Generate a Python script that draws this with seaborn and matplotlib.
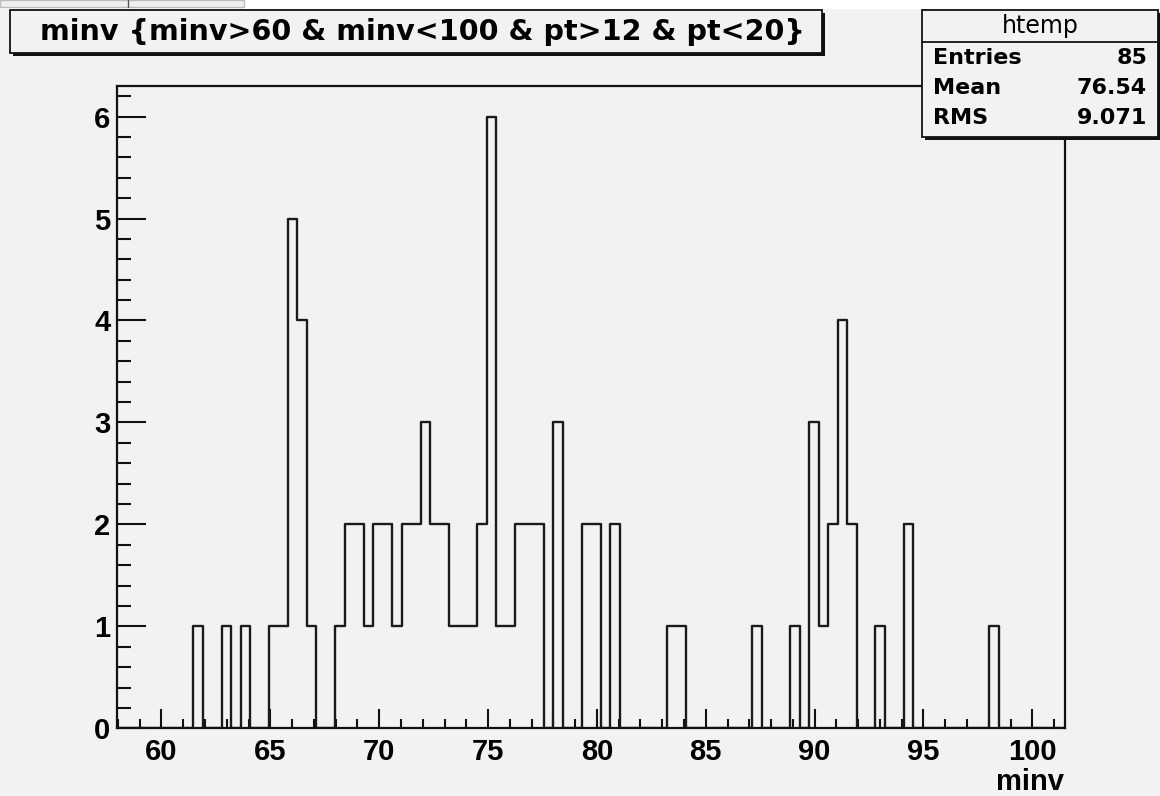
import numpy as np
import pandas as pd
import seaborn as sns
import matplotlib
matplotlib.use("Agg")
import matplotlib.pyplot as plt
from matplotlib.patches import Rectangle
from matplotlib.lines import Line2D
from matplotlib.ticker import MultipleLocator

# ---------------- data ----------------
title_text = "minv {minv>60 & minv<100 & pt>12 & pt<20}"
x_label = "minv"
hist_name = "htemp"
x_min, x_max, n_bins = 57.97, 101.50, 100
filled_bins = [8, 11, 13, 16, 17, 18, 19, 20,
               23, 24, 25, 26, 27, 28, 29, 30, 31, 32, 33, 34, 35, 36, 37, 38,
               39, 40, 41, 42, 43, 44, 46, 49, 50, 52, 58, 59, 67, 71,
               73, 74, 75, 76, 77, 80, 83, 92]
bin_counts = [1, 1, 1, 1, 1, 5, 4, 1,
              1, 2, 2, 1, 2, 2, 1, 2, 2, 3, 2, 2, 1, 1, 1, 2,
              6, 1, 1, 2, 2, 2, 3, 2, 2, 2, 1, 1, 1, 1,
              3, 1, 2, 4, 2, 1, 2, 1]
stat_names = ["Entries", "Mean", "RMS"]
stat_values = ["85", "76.54", "9.071"]
x_ticks = [60, 65, 70, 75, 80, 85, 90, 95, 100]
y_ticks = [0, 1, 2, 3, 4, 5, 6]

edges = np.linspace(x_min, x_max, n_bins + 1)
centers = 0.5 * (edges[:-1] + edges[1:])
counts = np.zeros(n_bins)
counts[filled_bins] = bin_counts
df = pd.DataFrame({"minv": centers, "count": counts})

# ---------------- style ----------------
sns.set_theme(style="ticks")
BG = "#f2f2f2"
plt.rcParams["font.family"] = ["Liberation Sans", "DejaVu Sans"]

W, H = 1160, 796
fig = plt.figure(figsize=(W / 100, H / 100), dpi=100, facecolor=BG)


def fx(px):
    return px / W


def fy(py):
    return 1 - py / H


ax_l, ax_t, ax_r, ax_b = 117.3, 86.0, 1065.0, 728.3
ax = fig.add_axes([fx(ax_l), fy(ax_b), fx(ax_r - ax_l), (ax_b - ax_t) / H])
ax.set_facecolor(BG)

sns.histplot(data=df, x="minv", weights="count", bins=n_bins, binrange=(x_min, x_max),
             element="step", fill=False, color="#1a1a1a", linewidth=1.7, ax=ax)

ax.set_xlim(x_min, x_max)
ax.set_ylim(0, 6.3)
ax.set_xticks(x_ticks)
ax.set_yticks(y_ticks)
ax.xaxis.set_minor_locator(MultipleLocator(1))
ax.yaxis.set_minor_locator(MultipleLocator(0.2))
ax.set_xlabel("")
ax.set_ylabel("")
for s in ax.spines.values():
    s.set_linewidth(1.6)
    s.set_color("#111111")
ax.tick_params(axis="x", which="major", direction="in", length=13.5, width=1.5,
               pad=7, labelsize=21, colors="#111111")
ax.tick_params(axis="x", which="minor", direction="in", length=6.5, width=1.5,
               colors="#111111")
ax.tick_params(axis="y", which="major", direction="in", length=21, width=1.5,
               pad=5, labelsize=21, colors="#111111")
ax.tick_params(axis="y", which="minor", direction="in", length=10, width=1.5,
               colors="#111111")
for lab in ax.get_xticklabels() + ax.get_yticklabels():
    lab.set_fontweight("bold")
    lab.set_color("black")

# x axis title at right end
fig.text(fx(1064), fy(790), x_label, ha="right", va="baseline",
         fontsize=21, fontweight="bold", color="black")

# top white strip (screenshot artefact)
fig.add_artist(Rectangle((0, fy(9)), 1, 9 / H, transform=fig.transFigure,
                         facecolor="white", edgecolor="none", zorder=5))
fig.add_artist(Rectangle((0, fy(7)), fx(244), 7 / H, transform=fig.transFigure,
                         facecolor="#eeeeee", edgecolor="#bbbbbb", lw=1, zorder=6))
fig.add_artist(Line2D([fx(128), fx(128)], [fy(7), 1], transform=fig.transFigure,
                      color="#555555", lw=1, zorder=7))

# title box with shadow
fig.add_artist(Rectangle((fx(13), fy(56)), fx(812), 43 / H, transform=fig.transFigure,
                         facecolor="#111111", edgecolor="none", zorder=8))
fig.add_artist(Rectangle((fx(10), fy(53)), fx(812), 43 / H, transform=fig.transFigure,
                         facecolor=BG, edgecolor="#111111", lw=1.3, zorder=9))
fig.text(fx(422), fy(32), title_text, ha="center", va="center", fontsize=20.6,
         fontweight="bold", family=["DejaVu Sans"], color="black", zorder=10)

# stats box with shadow
sb_l, sb_t, sb_r, sb_b = 921.7, 10.0, 1158.3, 136.7
fig.add_artist(Rectangle((fx(sb_l + 3), fy(sb_b + 3)), fx(sb_r - sb_l), (sb_b - sb_t) / H,
                         transform=fig.transFigure, facecolor="#111111",
                         edgecolor="none", zorder=8))
fig.add_artist(Rectangle((fx(sb_l), fy(sb_b)), fx(sb_r - sb_l), (sb_b - sb_t) / H,
                         transform=fig.transFigure, facecolor=BG,
                         edgecolor="#111111", lw=1.3, zorder=9))
fig.add_artist(Line2D([fx(sb_l), fx(sb_r)], [fy(42.3), fy(42.3)], transform=fig.transFigure,
                      color="#111111", lw=1.3, zorder=10))
fig.text(fx((sb_l + sb_r) / 2), fy(26), hist_name, ha="center", va="center",
         fontsize=17, family=["DejaVu Sans"], color="black", zorder=11)
row_y = [58, 88, 118]
for name, val, yy in zip(stat_names, stat_values, row_y):
    fig.text(fx(933), fy(yy), name, ha="left", va="center", fontsize=16,
             fontweight="bold", family=["DejaVu Sans"], color="black", zorder=11)
    fig.text(fx(1147), fy(yy), val, ha="right", va="center", fontsize=16,
             fontweight="bold", family=["DejaVu Sans"], color="black", zorder=11)

fig.savefig("out.png", dpi=100, facecolor=BG)
